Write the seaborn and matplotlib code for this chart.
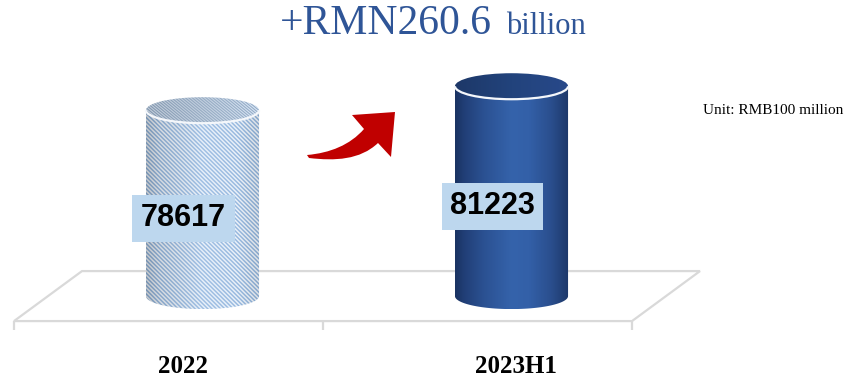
import numpy as np
import pandas as pd
import matplotlib
matplotlib.use("Agg")
import matplotlib.pyplot as plt
import seaborn as sns
from matplotlib.patches import Polygon, Ellipse, Arc, PathPatch
from matplotlib.path import Path
from matplotlib.colors import to_rgb
import matplotlib.transforms as mtransforms

# ---- data -------------------------------------------------------------
periods = ["2022", "2023H1"]
balance = [78617, 81223]          # RMB100 million
increase_text = "+RMN260.6"
increase_unit = "billion"
unit_note = "Unit: RMB100 million"

# ---- layout -----------------------------------------------------------
W, H, DPI = 852, 377, 100
BASE = 58400                      # value at the floor of the 3D plot
YLIM = (49600, 90600)
XLIM = (-0.6553, 2.1019)
BAR_WIDTH = 0.366
ELLIPSE_RY_PX = 13                # half height of cylinder caps
DEPTH_PX = (34, 25)               # floor offset of the front / back edges
LABEL_DX_PX = [-19, 4]
BOX_OFFSET_PX = (-19, -15)

sns.set_theme(style="white")
plt.rcParams["font.family"] = ["Liberation Sans", "DejaVu Sans"]

fig = plt.figure(figsize=(W / DPI, H / DPI), dpi=DPI)
ax = fig.add_axes([0, 0, 1, 1])

df = pd.DataFrame({"period": periods, "balance": balance})
sns.barplot(data=df, x="period", y="balance", width=BAR_WIDTH,
            errorbar=None, ax=ax)
bars = sorted(ax.patches, key=lambda p: p.get_x())
for b in bars:
    b.set_visible(False)

ax.set_xlim(*XLIM)
ax.set_ylim(*YLIM)
ax.axis("off")

sx = W / (XLIM[1] - XLIM[0])      # pixels per x unit
sy = H / (YLIM[1] - YLIM[0])      # pixels per y unit


def dxu(px):
    return px / sx


def dyu(px):
    return px / sy


# ---- floor ------------------------------------------------------------
floor_col = "#d9d9d9"
fx0, fx1 = -0.5, len(periods) - 0.5
fdx, fdy = DEPTH_PX
front = [(fx0 - dxu(fdx), BASE - dyu(fdy)), (fx1 - dxu(fdx), BASE - dyu(fdy))]
back = [(fx1 + dxu(fdx), BASE + dyu(fdy)), (fx0 + dxu(fdx), BASE + dyu(fdy))]
floor = Polygon(front + back, closed=True, fill=False, edgecolor=floor_col,
                lw=1.6, zorder=1)
ax.add_patch(floor)
for k in range(len(periods) + 1):
    tx = fx0 + k - dxu(fdx)
    ax.plot([tx, tx], [BASE - dyu(fdy), BASE - dyu(fdy + 9)],
            color=floor_col, lw=1.6, zorder=1, solid_capstyle="butt")


# ---- cylinder helpers -------------------------------------------------
def gradient(stops, n):
    f = np.linspace(0, 1, n)
    pos = [s[0] for s in stops]
    cols = np.array([to_rgb(s[1]) for s in stops])
    return np.stack([np.interp(f, pos, cols[:, c]) for c in range(3)], -1)


def body_path(x0, w, top, bottom, ry):
    xc, rx = x0 + w / 2, w / 2
    t1 = np.linspace(np.pi, 2 * np.pi, 60)
    t2 = np.linspace(2 * np.pi, np.pi, 60)
    pts = [(x0, top), (x0, bottom)]
    pts += list(zip(xc + rx * np.cos(t1), bottom + ry * np.sin(t1)))
    pts += [(x0 + w, top)]
    pts += list(zip(xc + rx * np.cos(t2), top + ry * np.sin(t2)))
    return pts


def draw_cylinder(bar, style):
    x0, w, top = bar.get_x(), bar.get_width(), bar.get_height()
    bottom = BASE
    xc = x0 + w / 2
    ry = dyu(ELLIPSE_RY_PX)
    nx = int(round(w * sx))
    ny = int(round((top - bottom + ry) * sy))
    jj, ii = np.meshgrid(np.arange(nx), np.arange(ny))

    if style == "hatched":
        phase = np.sin(2 * np.pi * (jj - ii) / 4.2)
        light = np.array(to_rgb("#f8fbff"))
        blue = np.array(to_rgb("#8fb4de"))
        mix = (0.5 + 0.5 * phase)[..., None]
        img = light * (1 - mix) + blue * mix
        shade = np.interp(np.linspace(0, 1, nx), [0, 0.12, 0.5, 0.8, 1.0],
                          [0.80, 0.89, 1.0, 0.99, 0.90])
        img = img * shade[None, :, None]
        img = np.clip(img, 0, 1)
    else:
        row = gradient([(0.0, "#1a3362"), (0.08, "#213f77"), (0.25, "#2b5192"),
                        (0.5, "#3563ab"), (0.65, "#3360a8"), (0.85, "#2a4e8d"),
                        (1.0, "#1d3869")], nx)
        img = np.repeat(row[None, :, :], ny, axis=0)

    clip = Polygon(body_path(x0, w, top, bottom, ry), closed=True,
                   transform=ax.transData, facecolor="none", edgecolor="none")
    ax.add_patch(clip)
    im = ax.imshow(img, extent=(x0, x0 + w, bottom - ry, top), origin="upper",
                   aspect="auto", interpolation="bilinear", zorder=3)
    im.set_clip_path(clip)

    # top cap
    ncy = int(round(2 * ry * sy))
    cj, ci = np.meshgrid(np.arange(nx), np.arange(ncy))
    if style == "hatched":
        phase = np.sin(2 * np.pi * (cj + 2.2 * ci) / 3.4)
        c_lo = np.array(to_rgb("#8ea5bf"))
        c_hi = np.array(to_rgb("#d0dcea"))
        mix = (0.5 + 0.5 * phase)[..., None]
        cap = c_hi * (1 - mix) + c_lo * mix
        shade = np.interp(np.linspace(0, 1, nx), [0, 1], [0.92, 1.05])
        cap = np.clip(cap * shade[None, :, None], 0, 1)
    else:
        row = gradient([(0.0, "#1d3868"), (0.5, "#22437c"), (1.0, "#28498a")], nx)
        cap = np.repeat(row[None, :, :], ncy, axis=0)
    cap_clip = Ellipse((xc, top), w, 2 * ry, transform=ax.transData,
                       facecolor="none", edgecolor="none")
    ax.add_patch(cap_clip)
    imc = ax.imshow(cap, extent=(x0, x0 + w, top - ry, top + ry), origin="upper",
                    aspect="auto", interpolation="bilinear", zorder=4)
    imc.set_clip_path(cap_clip)
    rim = Arc((xc, top), w, 2 * ry, theta1=180, theta2=360, color="#f4f7fb",
              lw=1.6, zorder=5)
    ax.add_patch(rim)


draw_cylinder(bars[0], "hatched")
draw_cylinder(bars[1], "solid")

# ---- value boxes -----------------------------------------------------
for bar, val in zip(bars, balance):
    xc = bar.get_x() + bar.get_width() / 2
    ax.annotate(f"{val}", xy=(xc, (BASE + bar.get_height()) / 2),
                xytext=BOX_OFFSET_PX, textcoords="offset pixels",
                ha="center", va="center", fontsize=22, fontweight="bold",
                color="black", family=["Liberation Sans", "DejaVu Sans"],
                bbox=dict(boxstyle="square,pad=0.28", fc="#bdd7ee", ec="none"),
                zorder=8)

# ---- category labels --------------------------------------------------
for i, (lab, dx) in enumerate(zip(periods, LABEL_DX_PX)):
    ax.text(i + dxu(dx), BASE - dyu(70), lab, ha="center", va="center",
            fontsize=18, fontweight="bold", color="black",
            family=["Liberation Serif", "DejaVu Serif"], zorder=8)

# ---- growth arrow -----------------------------------------------------
px_to_fig = mtransforms.Affine2D().scale(1 / W, -1 / H).translate(0, 1) + fig.transFigure
verts = [(307, 155), (330, 153), (350, 145), (364, 129),
         (352, 115), (395, 112), (391, 157), (378, 143),
         (360, 160), (335, 161), (309, 158), (307, 155)]
codes = [Path.MOVETO, Path.CURVE4, Path.CURVE4, Path.CURVE4,
         Path.LINETO, Path.LINETO, Path.LINETO, Path.LINETO,
         Path.CURVE4, Path.CURVE4, Path.CURVE4, Path.CLOSEPOLY]
arrow = PathPatch(Path(verts, codes), transform=px_to_fig, facecolor="#c00000",
                  edgecolor="none", zorder=6)
ax.add_patch(arrow)

# ---- title and unit note ---------------------------------------------
title_col = "#2f5597"
fig.text(280 / W, 1 - 34 / H, increase_text, ha="left", va="baseline",
         fontsize=30, color=title_col, family=["Liberation Serif", "DejaVu Serif"])
fig.text(506 / W, 1 - 34 / H, increase_unit, ha="left", va="baseline",
         fontsize=22, color=title_col, family=["Liberation Serif", "DejaVu Serif"])
fig.text(703 / W, 1 - 110 / H, unit_note, ha="left", va="center",
         fontsize=11, color="black", family=["Liberation Serif", "DejaVu Serif"])

fig.savefig("out.png", dpi=DPI)
